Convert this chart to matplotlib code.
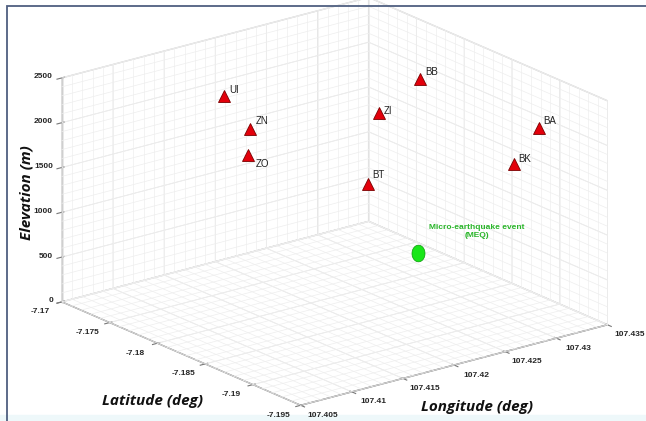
import numpy as np
import matplotlib
matplotlib.use("Agg")
import matplotlib.pyplot as plt
from matplotlib.path import Path
from matplotlib.patches import Rectangle
from mpl_toolkits.mplot3d import proj3d

# stations (lon, lat in deg, elevation in m)
stations = ["UI", "ZN", "ZO", "BB", "ZI", "BA", "BK", "BT"]
st_lon = [107.4186, 107.4187, 107.4181, 107.4314, 107.4272, 107.4333, 107.4299, 107.4213]
st_lat = [-7.1724, -7.1750, -7.1755, -7.1792, -7.1794, -7.1897, -7.1907, -7.1846]
st_elev = [2000, 1750, 1500, 2125, 1875, 2000, 1750, 1500]

# micro-earthquake event
meq_lon = [107.4256]
meq_lat = [-7.1852]
meq_elev = [625]

lon_ticks = [107.405, 107.41, 107.415, 107.42, 107.425, 107.43, 107.435]
lat_ticks = [-7.195, -7.19, -7.185, -7.18, -7.175, -7.17]
elev_ticks = [0, 500, 1000, 1500, 2000, 2500]

# label offsets in pixels (dx, dy), y up
lab_off = {"UI": (5, 6), "ZN": (6, 8), "ZO": (7, -9), "BB": (6, 7),
           "ZI": (5, 2), "BA": (4, 7), "BK": (4, 5), "BT": (4, 9)}

W, H = 646, 421
plt.rcParams["font.family"] = ["Liberation Sans", "DejaVu Sans"]
plt.rcParams["grid.color"] = "#e3e3e3"
plt.rcParams["grid.linewidth"] = 0.6

fig = plt.figure(figsize=(W / 100, H / 100), dpi=100)
ax = fig.add_axes([0.1, 0.1, 0.6, 0.6 * W / H], projection="3d", computed_zorder=False)
ax.patch.set_visible(False)
ax.set_proj_type("ortho")
ax.view_init(elev=19.7, azim=-127.9)
ax.set_box_aspect((1, 1, 0.612))
ax.set_xlim(lon_ticks[0], lon_ticks[-1])
ax.set_ylim(lat_ticks[0], lat_ticks[-1])
ax.set_zlim(elev_ticks[0], elev_ticks[-1])
ax.set_xticks(lon_ticks)
ax.set_yticks(lat_ticks)
ax.set_zticks(elev_ticks)
ax.set_xticklabels([])
ax.set_yticklabels([])
ax.set_zticklabels([])
ax.tick_params(colors="#777777")

for axis in (ax.xaxis, ax.yaxis, ax.zaxis):
    axis.set_pane_color((1, 1, 1, 1))
    axis.pane.set_edgecolor("#d6d6d6")
    axis.line.set_color("#8a8a8a")
    axis.line.set_linewidth(1.0)

# minor grid on the three back panes
x0, x1 = ax.get_xlim()
y0, y1 = ax.get_ylim()
z0, z1 = ax.get_zlim()
gx = np.linspace(x0, x1, 31)
gy = np.linspace(y0, y1, 26)
gz = np.linspace(z0, z1, 26)
gkw = dict(color="#eeeeee", lw=0.5, zorder=0.5)
for v in gx:
    ax.plot([v, v], [y1, y1], [z0, z1], **gkw)
    ax.plot([v, v], [y0, y1], [z0, z0], **gkw)
for v in gy:
    ax.plot([x1, x1], [v, v], [z0, z1], **gkw)
    ax.plot([x0, x1], [v, v], [z0, z0], **gkw)
for v in gz:
    ax.plot([x0, x1], [y1, y1], [v, v], **gkw)
    ax.plot([x1, x1], [y0, y1], [v, v], **gkw)

ax.plot(st_lon, st_lat, st_elev, ls="none", marker="^", ms=9,
        mfc="#e3000b", mec="#7a0000", mew=0.6, zorder=5)

t = np.linspace(0, 2 * np.pi, 60)
ellipse = Path(np.column_stack([0.78 * np.cos(t), np.sin(t)]), closed=True)
ax.plot(meq_lon, meq_lat, meq_elev, ls="none", marker=ellipse, ms=12,
        mfc="#19e619", mec="#0a9a0a", mew=0.5, zorder=5)


def to_px(x, y, z):
    xs, ys, _ = proj3d.proj_transform(np.atleast_1d(np.asarray(x, float)),
                                      np.atleast_1d(np.asarray(y, float)),
                                      np.atleast_1d(np.asarray(z, float)),
                                      ax.get_proj())
    return ax.transData.transform(np.column_stack([xs, ys]))


# fit the box to the reference corners
fig.canvas.draw()
cx = [x0, x0, x1, x1, x0, x1]
cy = [y1, y0, y0, y1, y1, y0]
cz = [z0, z0, z0, z0, z1, z1]
target = np.array([[62, 301], [300, 403], [606, 326], [372, 232], [62, 77], [606, 93]], float)
target[:, 1] = H - target[:, 1]
bb = ax.get_position().transformed(fig.transFigure)
S0 = bb.width
g = (to_px(cx, cy, cz) - np.array([bb.x0, bb.y0])) / S0
A = np.zeros((2 * len(g), 3))
A[0::2, 0] = 1
A[1::2, 1] = 1
A[0::2, 2] = g[:, 0]
A[1::2, 2] = g[:, 1]
sol = np.linalg.lstsq(A, target.reshape(-1), rcond=None)[0]
ox, oy, S = sol
ax.set_position([ox / W, oy / H, S / W, S / H])
fig.canvas.draw()

# tick labels, placed beside the projected tick positions
tkw = dict(fontsize=6, color="#262626", family=["Liberation Sans Narrow", "Liberation Sans"],
           fontweight="bold")
for v, (px, py) in zip(lon_ticks, to_px(lon_ticks, [y0] * len(lon_ticks), [z0] * len(lon_ticks))):
    fig.text((px + 22) / W, (py - 10) / H, f"{v:g}", ha="center", va="center", **tkw)
for v, (px, py) in zip(lat_ticks, to_px([x0] * len(lat_ticks), lat_ticks, [z0] * len(lat_ticks))):
    fig.text((px - 22) / W, (py - 10) / H, f"{v:g}", ha="center", va="center", **tkw)
for v, (px, py) in zip(elev_ticks, to_px([x0] * len(elev_ticks), [y1] * len(elev_ticks), elev_ticks)):
    fig.text((px - 9) / W, (py + 1) / H, f"{v:g}", ha="right", va="center", **tkw)

# station labels
pts = to_px(st_lon, st_lat, st_elev)
for name, (px, py) in zip(stations, pts):
    dx, dy = lab_off[name]
    fig.text((px + dx) / W, (py + dy) / H, name, fontsize=7, color="#222222",
             ha="left", va="center")

mp = to_px(meq_lon, meq_lat, meq_elev)[0]
fig.text((mp[0] + 59) / W, (mp[1] + 22) / H, "Micro-earthquake event\n(MEQ)",
         fontsize=6, color="#2ab52a", fontweight="bold", ha="center", va="center",
         linespacing=1.15)

# axis titles
lkw = dict(fontsize=11, fontweight="bold", fontstyle="italic", color="#111111",
           family=["Open Sans", "DejaVu Sans"])
fig.text(152 / W, 1 - 401 / H, "Latitude (deg)", ha="center", va="center", **lkw)
fig.text(477 / W, 1 - 407 / H, "Longitude (deg)", ha="center", va="center", **lkw)
fig.text(27 / W, 1 - 193 / H, "Elevation (m)", ha="center", va="center", rotation=90, **lkw)

# screenshot frame
fig.patches.append(Rectangle((0, 0), 1, 1 - 415 / H, transform=fig.transFigure,
                             color="#eef8fa", zorder=-1))
fig.patches.append(Rectangle((7 / W, -0.05), 1.2, 1.05 - 6 / H, transform=fig.transFigure,
                             fill=False, edgecolor="#4f5f80", lw=1.3, zorder=10))

fig.savefig("out.png", dpi=100)
